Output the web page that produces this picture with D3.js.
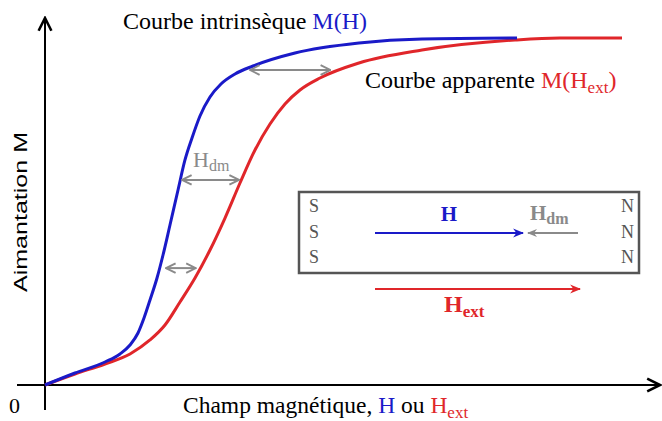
<!DOCTYPE html>
<html><head><meta charset="utf-8">
<script src="https://cdn.jsdelivr.net/npm/d3@7/dist/d3.min.js"></script>
<style>body{margin:0;background:#fff}svg{display:block}</style>
</head><body><svg id="c" width="662" height="421"></svg>
<script>
// Intrinsic curve M(H)
const blueH = [0,5,10,12.5,14.17,15.5,16.5,17.5,18.67,19.67,20.83,22.17,23.33,24.5,25.83,27.5,29.33,31.67,34.67,41.67,52.33,62.83,78.67];
const blueM = [0,3.43,6.57,8.86,11.43,14.86,19.14,24.29,30.57,37.14,45.71,55.71,64.29,70.57,76.86,82.29,86,88.86,91.14,94.86,97.71,98.86,99.14];
// Apparent curve M(Hext)
const redH = [0,5,10,14.17,17.5,20,22.5,25,27.5,30,32.5,35,37.5,40,42.5,45.83,52.33,62.83,78.33,85.83,96.17];
const redM = [0,3.14,6,8.86,12.86,17.14,23.71,30.57,38.57,47.71,57.71,67.14,74.57,80.29,84.29,87.71,92,95.71,98.57,99.14,99.14];
// Hdm gaps (M level, H start, H end)
const gapM = [90,58.6,33.4];
const gapH0 = [34.0,22.67,20];
const gapH1 = [47.7,32.5,25.3];

const svg = d3.select("#c");
const x = d3.scaleLinear().domain([0,100]).range([45,645]);
const y = d3.scaleLinear().domain([0,100]).range([385,35]);
const BLUE="#1a1ac8", RED="#e0262a", GRAY="#8a8a8a";
const SERIF="'Liberation Serif','Times New Roman',serif";

const defs = svg.append("defs");
function chevron(id,color,size){
  const m=defs.append("marker").attr("id",id).attr("viewBox","0 0 10 10")
    .attr("refX",9).attr("refY",5).attr("markerWidth",size).attr("markerHeight",size)
    .attr("markerUnits","userSpaceOnUse").attr("orient","auto-start-reverse");
  m.append("path").attr("d","M1,1 L9,5 L1,9").attr("fill","none").attr("stroke",color).attr("stroke-width",1.6);
}
function tri(id,color,size){
  const m=defs.append("marker").attr("id",id).attr("viewBox","0 0 10 10")
    .attr("refX",9).attr("refY",5).attr("markerWidth",size).attr("markerHeight",size)
    .attr("markerUnits","userSpaceOnUse").attr("orient","auto-start-reverse");
  m.append("path").attr("d","M0,1 L10,5 L0,9 L3,5 Z").attr("fill",color);
}
chevron("ak","#000",16); chevron("ag",GRAY,12);
tri("ab",BLUE,11); tri("ar",RED,11); tri("ag2",GRAY,10);

// Axes
svg.append("line").attr("x1",x(0)).attr("x2",x(0)).attr("y1",410).attr("y2",18)
  .attr("stroke","#000").attr("stroke-width",2).attr("marker-end","url(#ak)");
svg.append("line").attr("x1",17).attr("x2",660).attr("y1",y(0)).attr("y2",y(0))
  .attr("stroke","#000").attr("stroke-width",2).attr("marker-end","url(#ak)");

const line = d3.line().x(d=>x(d[0])).y(d=>y(d[1])).curve(d3.curveMonotoneX);
svg.append("path").datum(redH.map((h,i)=>[h,redM[i]])).attr("d",line)
  .attr("fill","none").attr("stroke",RED).attr("stroke-width",3);
svg.append("path").datum(blueH.map((h,i)=>[h,blueM[i]])).attr("d",line)
  .attr("fill","none").attr("stroke",BLUE).attr("stroke-width",3);

// Hdm gap arrows
gapM.forEach((m,i)=>{
  svg.append("line").attr("x1",x(gapH0[i])+1).attr("x2",x(gapH1[i])-1)
    .attr("y1",y(m)).attr("y2",y(m)).attr("stroke",GRAY).attr("stroke-width",2)
    .attr("marker-start","url(#ag)").attr("marker-end","url(#ag)");
});

// Titles
let t1=svg.append("text").attr("x",123).attr("y",29).attr("font-family",SERIF).attr("font-size",24);
t1.append("tspan").text("Courbe intrinsèque ");
t1.append("tspan").attr("fill",BLUE).text("M(H)");

let t2=svg.append("text").attr("x",365).attr("y",88).attr("font-family",SERIF).attr("font-size",24);
t2.append("tspan").text("Courbe apparente ");
t2.append("tspan").attr("fill",RED).text("M(H");
t2.append("tspan").attr("fill",RED).attr("font-size",17).attr("dy",5).text("ext");
t2.append("tspan").attr("fill",RED).attr("dy",-5).text(")");

// Hdm label
let t3=svg.append("text").attr("x",193).attr("y",167).attr("font-family",SERIF).attr("font-size",22).attr("fill",GRAY);
t3.append("tspan").text("H");
t3.append("tspan").attr("font-size",16).attr("dy",4).text("dm");

// Axis labels
svg.append("text").attr("transform","translate(27,212) rotate(-90)").attr("text-anchor","middle")
  .attr("font-family","'Liberation Sans',Arial,sans-serif").attr("font-size",19)
  .attr("textLength",160).attr("lengthAdjust","spacingAndGlyphs").text("Aimantation M");
svg.append("text").attr("x",9).attr("y",413).attr("font-family",SERIF).attr("font-size",22).text("0");
let t4=svg.append("text").attr("x",183).attr("y",413).attr("font-family",SERIF).attr("font-size",23.5);
t4.append("tspan").text("Champ magnétique, ");
t4.append("tspan").attr("fill",BLUE).text("H");
t4.append("tspan").text(" ou ");
t4.append("tspan").attr("fill",RED).text("H");
t4.append("tspan").attr("fill",RED).attr("font-size",17).attr("dy",5).text("ext");

// Magnet box
svg.append("rect").attr("x",299).attr("y",192).attr("width",340).attr("height",81)
  .attr("fill","#fff").attr("stroke","#555").attr("stroke-width",2.5);
const rowsY=[212,238,263];
rowsY.forEach(yy=>{
  svg.append("text").attr("x",309).attr("y",yy).attr("font-family",SERIF).attr("font-size",18).attr("fill","#555").text("S");
  svg.append("text").attr("x",621).attr("y",yy).attr("font-family",SERIF).attr("font-size",18).attr("fill","#555").text("N");
});
svg.append("text").attr("x",449).attr("y",221).attr("text-anchor","middle").attr("font-family",SERIF)
  .attr("font-size",21).attr("font-weight","bold").attr("fill",BLUE).text("H");
svg.append("line").attr("x1",375).attr("x2",523).attr("y1",233).attr("y2",233)
  .attr("stroke",BLUE).attr("stroke-width",2).attr("marker-end","url(#ab)");
svg.append("line").attr("x1",578).attr("x2",528).attr("y1",233).attr("y2",233)
  .attr("stroke",GRAY).attr("stroke-width",2).attr("marker-end","url(#ag2)");
let t5=svg.append("text").attr("x",530).attr("y",220).attr("font-family",SERIF).attr("font-size",21).attr("fill",GRAY).attr("font-weight","bold");
t5.append("tspan").text("H");
t5.append("tspan").attr("font-size",16).attr("dy",4).text("dm");
svg.append("line").attr("x1",375).attr("x2",580).attr("y1",289).attr("y2",289)
  .attr("stroke",RED).attr("stroke-width",2).attr("marker-end","url(#ar)");
let t6=svg.append("text").attr("x",444).attr("y",312).attr("font-family",SERIF).attr("font-size",24).attr("fill",RED).attr("font-weight","bold");
t6.append("tspan").text("H");
t6.append("tspan").attr("font-size",17).attr("dy",5).text("ext");
</script></body></html>
